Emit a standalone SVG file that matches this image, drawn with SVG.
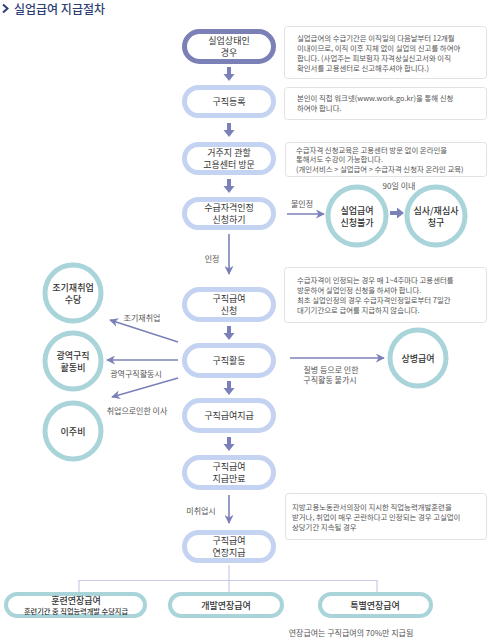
<svg xmlns="http://www.w3.org/2000/svg" width="500" height="640" viewBox="0 0 500 640">
<defs>
<style>
text{font-family:"Noto Sans CJK KR","Noto Sans",sans-serif;fill:#333;}
.pill{fill:#fff;stroke:#c4d3f1;stroke-width:5;}
.pill1{fill:#fff;stroke:#7b80b6;stroke-width:5;}
.circ{fill:#fff;stroke:#a9d4da;stroke-width:5;}
.bot{fill:#fff;stroke:#a9d4da;stroke-width:4;}
.box{fill:#fff;stroke:#e2e2e2;stroke-width:1;}
.nt{font-size:9px;text-anchor:middle;dominant-baseline:central;}
.ct{font-size:9px;text-anchor:middle;dominant-baseline:central;font-weight:500;}
.it{font-size:7.4px;fill:#555;}
.lb{font-size:8px;fill:#555;text-anchor:middle;dominant-baseline:central;}
.ln{stroke:#7b80b8;stroke-width:1.6;fill:none;}
.tree{stroke:#c8cce8;stroke-width:1.2;fill:none;}
.blk{fill:#7b80b8;}
</style>
<marker id="ahb" viewBox="0 0 10 10" refX="9" refY="5" markerWidth="9" markerHeight="9" orient="auto" markerUnits="userSpaceOnUse">
<path d="M0,0 L10,5 L0,10 L3,5 Z" fill="#7b80b8"/>
</marker>
</defs>
<rect width="500" height="640" fill="#fff"/>

<g id="title">
<path d="M3,4.5 L7.5,8.5 L3,12.5" fill="none" stroke="#2e3f74" stroke-width="2"/>
<text x="14" y="13.5" style="font-size:12px;fill:#2e3f74;font-weight:500;">실업급여 지급절차</text>
</g>

<g id="connectors">
<path class="blk" d="M227,67 h4 v7 h3.5 l-5.5,7 l-5.5,-7 h3.5 z"/>
<path class="blk" d="M227,123 h4 v7 h3.5 l-5.5,7 l-5.5,-7 h3.5 z"/>
<path class="blk" d="M227,179 h4 v7 h3.5 l-5.5,7 l-5.5,-7 h3.5 z"/>
<path class="blk" d="M227,326 h4 v7 h3.5 l-5.5,7 l-5.5,-7 h3.5 z"/>
<path class="blk" d="M227,381 h4 v7 h3.5 l-5.5,7 l-5.5,-7 h3.5 z"/>
<path class="blk" d="M227,437 h4 v7 h3.5 l-5.5,7 l-5.5,-7 h3.5 z"/>
<path class="blk" d="M390,211 h7 v-3.5 l7,5.5 l-7,5.5 v-3.5 h-7 z"/>
<line class="ln" x1="229" y1="234" x2="229" y2="274" marker-end="url(#ahb)"/>
<text class="lb" x="212" y="258">인정</text>
<line class="ln" x1="287" y1="214" x2="324" y2="214" marker-end="url(#ahb)"/>
<text class="lb" x="302" y="203">불인정</text>
<text class="lb" x="399" y="185">90일 이내</text>
<line class="ln" x1="178" y1="342" x2="110" y2="320" marker-end="url(#ahb)"/>
<text class="lb" x="142" y="317">조기재취업</text>
<line class="ln" x1="178" y1="360" x2="107" y2="360" marker-end="url(#ahb)"/>
<text class="lb" x="136" y="373">광역구직활동시</text>
<line class="ln" x1="178" y1="378" x2="112" y2="397" marker-end="url(#ahb)"/>
<text class="lb" x="137" y="410">취업으로인한 이사</text>
<line class="ln" x1="290" y1="358" x2="384" y2="358" marker-end="url(#ahb)"/>
<text class="lb" x="331" y="369">질병 등으로 인한</text>
<text class="lb" x="330" y="379.5">구직활동 불가시</text>
<line class="ln" x1="229" y1="495" x2="229" y2="523" marker-end="url(#ahb)"/>
<text class="lb" x="201" y="510">미취업시</text>
<path class="tree" d="M229,565 V592 M79,592 V580.5 H377 V592"/>
</g>

<g id="n1"><rect class="pill1" x="184.5" y="31.5" width="89" height="30" rx="15"/><text class="nt" x="229" y="40.5">실업상태인</text><text class="nt" x="229" y="52.5">경우</text></g>
<g id="n2"><rect class="pill" x="184.5" y="87.5" width="89" height="28" rx="14"/><text class="nt" x="229" y="101.5">구직등록</text></g>
<g id="n3"><rect class="pill" x="184.5" y="144.5" width="89" height="28" rx="14"/><text class="nt" x="229" y="152.5">거주지 관할</text><text class="nt" x="229" y="164.5">고용센터 방문</text></g>
<g id="n4"><rect class="pill" x="184.5" y="199.5" width="89" height="28" rx="14"/><text class="nt" x="229" y="207.5">수급자격인정</text><text class="nt" x="229" y="219.5">신청하기</text></g>
<g id="n5"><rect class="pill" x="184.5" y="289.5" width="89" height="30" rx="15"/><text class="nt" x="229" y="298.5">구직급여</text><text class="nt" x="229" y="310.5">신청</text></g>
<g id="n6"><rect class="pill" x="184.5" y="345.5" width="89" height="30" rx="15"/><text class="nt" x="229" y="360.5">구직활동</text></g>
<g id="n7"><rect class="pill" x="184.5" y="400.5" width="89" height="30" rx="15"/><text class="nt" x="229" y="415.5">구직급여지급</text></g>
<g id="n8"><rect class="pill" x="184.5" y="457.5" width="89" height="30" rx="15"/><text class="nt" x="229" y="466.5">구직급여</text><text class="nt" x="229" y="478.5">지급만료</text></g>
<g id="n9"><rect class="pill" x="184.5" y="532.5" width="89" height="28" rx="14"/><text class="nt" x="229" y="540.5">구직급여</text><text class="nt" x="229" y="552.5">연장지급</text></g>

<g id="c1"><circle class="circ" cx="357" cy="216" r="29"/><text class="ct" x="357" y="210.5">실업급여</text><text class="ct" x="357" y="222">신청불가</text></g>
<g id="c2"><circle class="circ" cx="436" cy="216" r="29"/><text class="ct" x="436" y="210.5">심사/재심사</text><text class="ct" x="436" y="222">청구</text></g>
<g id="c3"><circle class="circ" cx="73" cy="293" r="28"/><text class="ct" x="73" y="287.5">조기재취업</text><text class="ct" x="73" y="299">수당</text></g>
<g id="c4"><circle class="circ" cx="73" cy="361" r="28"/><text class="ct" x="73" y="355.5">광역구직</text><text class="ct" x="73" y="367">활동비</text></g>
<g id="c5"><circle class="circ" cx="73" cy="431" r="28"/><text class="ct" x="73" y="431">이주비</text></g>
<g id="c6"><circle class="circ" cx="418" cy="358" r="28"/><text class="ct" x="418" y="358">상병급여</text></g>

<g id="b1"><rect class="bot" x="6" y="594" width="139" height="22" rx="11"/><text class="ct" x="76" y="600">훈련연장급여</text><text class="ct" x="76" y="611" style="font-size:7.2px">훈련기간 중 직업능력개발 수당지급</text></g>
<g id="b2"><rect class="bot" x="170" y="594" width="112" height="22" rx="11"/><text class="ct" x="226" y="605">개발연장급여</text></g>
<g id="b3"><rect class="bot" x="320" y="594" width="111" height="22" rx="11"/><text class="ct" x="375" y="605">특별연장급여</text></g>
<text class="lb" x="351" y="632">연장급여는 구직급여의 70%만 지급됨</text>

<g id="i1"><rect class="box" x="284.5" y="26.5" width="202" height="52" rx="3"/>
<text class="it" x="297" y="41">실업급여의 수급기간은 이직일의 다음날부터 12개월</text>
<text class="it" x="297" y="51">이내이므로, 이직 이후 지체 없이 실업의 신고를 하여야</text>
<text class="it" x="297" y="61">합니다. (사업주는 피보험자 자격상실신고서와 이직</text>
<text class="it" x="297" y="71">확인서를 고용센터로 신고해주셔야 합니다.)</text></g>
<g id="i2"><rect class="box" x="284.5" y="87.5" width="202" height="32" rx="3"/>
<text class="it" x="297" y="101">본인이 직접 워크넷(www.work.go.kr)을 통해 신청</text>
<text class="it" x="297" y="111">하여야 합니다.</text></g>
<g id="i3"><rect class="box" x="285.5" y="142.5" width="201" height="34" rx="3"/>
<text class="it" x="296" y="152.5">수급자격 신청교육은 고용센터 방문 없이 온라인을</text>
<text class="it" x="296" y="162">통해서도 수강이 가능합니다.</text>
<text class="it" x="296" y="171.5">(개인서비스 &gt; 실업급여 &gt; 수급자격 신청자 온라인 교육)</text></g>
<g id="i4"><rect class="box" x="284.5" y="267.5" width="202" height="55" rx="3"/>
<text class="it" x="297" y="283">수급자격이 인정되는 경우 매 1~4주마다 고용센터를</text>
<text class="it" x="297" y="293">방문하여 실업인정 신청을 하셔야 합니다.</text>
<text class="it" x="297" y="303">최초 실업인정의 경우 수급자격인정일로부터 7일간</text>
<text class="it" x="297" y="313">대기기간으로 급여를 지급하지 않습니다.</text></g>
<g id="i5"><rect class="box" x="285.5" y="493.5" width="201" height="46" rx="3"/>
<text class="it" x="292" y="510">지방고용노동관서의장이 지시한 직업능력개발훈련을</text>
<text class="it" x="292" y="520">받거나, 취업이 매우 곤란하다고 인정되는 경우 고실업이</text>
<text class="it" x="292" y="530">상당기간 지속될 경우</text></g>
</svg>
